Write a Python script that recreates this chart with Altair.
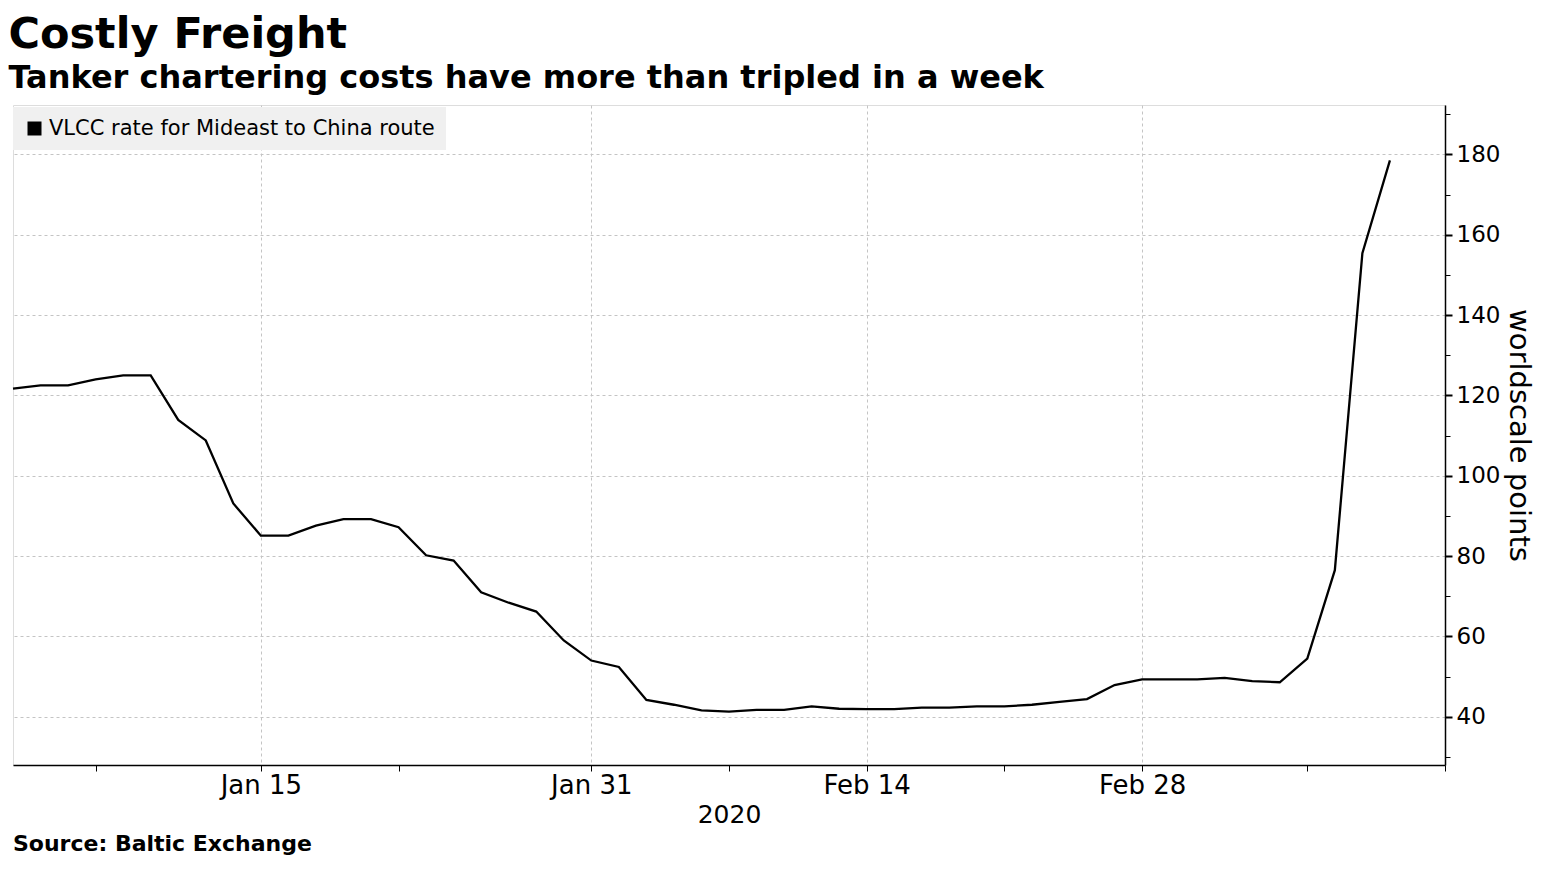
import json
import altair as alt
import numpy as np
import pandas as pd

# ---------------- data ----------------
dates = [
    "2020-01-02", "2020-01-03", "2020-01-06", "2020-01-07", "2020-01-08", "2020-01-09",
    "2020-01-10", "2020-01-13", "2020-01-14", "2020-01-15", "2020-01-16", "2020-01-17",
    "2020-01-20", "2020-01-21", "2020-01-22", "2020-01-23", "2020-01-24", "2020-01-27",
    "2020-01-28", "2020-01-29", "2020-01-30", "2020-01-31", "2020-02-03", "2020-02-04",
    "2020-02-05", "2020-02-06", "2020-02-07", "2020-02-10", "2020-02-11", "2020-02-12",
    "2020-02-13", "2020-02-14", "2020-02-17", "2020-02-18", "2020-02-19", "2020-02-20",
    "2020-02-21", "2020-02-24", "2020-02-25", "2020-02-26", "2020-02-27", "2020-02-28",
    "2020-03-02", "2020-03-03", "2020-03-04", "2020-03-05", "2020-03-06", "2020-03-09",
    "2020-03-10", "2020-03-11", "2020-03-12",
]
values = [
    121.7, 122.5, 122.5, 124.0, 125.0, 125.0,
    113.9, 108.8, 93.1, 85.1, 85.1, 87.6,
    89.2, 89.2, 87.2, 80.2, 78.9, 71.0,
    68.4, 66.2, 59.0, 54.0, 52.4, 44.2,
    43.0, 41.6, 41.3, 41.7, 41.7, 42.6,
    42.0, 41.9, 41.9, 42.3, 42.3, 42.6,
    42.6, 43.0, 43.7, 44.4, 47.9, 49.3,
    49.3, 49.3, 49.7, 48.9, 48.6, 54.5,
    76.5, 155.4, 178.5,
]
series_name = "VLCC rate for Mideast to China route"

x_start = "2020-01-02"
x_end = "2020-03-16"
major_tick_dates = ["2020-01-15", "2020-01-31", "2020-02-14", "2020-02-28"]
major_tick_labels = ["Jan 15", "Jan 31", "Feb 14", "Feb 28"]
minor_tick_dates = ["2020-01-07", "2020-01-22", "2020-02-07", "2020-02-21", "2020-03-09", "2020-03-16"]

y_major = [40, 60, 80, 100, 120, 140, 160, 180]
y_minor = [30, 50, 70, 90, 110, 130, 150, 170, 190]
y_domain = [28, 192.3]

title_text = "Costly Freight"
subtitle_text = "Tanker chartering costs have more than tripled in a week"
x_title = "2020"
y_title = "worldscale points"
source_text = "Source: Baltic Exchange"

FONT = "DejaVu Sans"
GRID = "#c4c4c4"
W, H = 1432, 660


def bday(d):
    return int(np.busday_count(x_start, d))


df = pd.DataFrame({"date": dates, "value": values, "series": series_name})
df["day"] = [bday(d) for d in dates]

major_idx = [bday(d) for d in major_tick_dates]
minor_idx = [bday(d) for d in minor_tick_dates]
end_idx = bday(x_end)

x_label_expr = (
    f"indexof({major_idx}, datum.value) >= 0 ? "
    f"{json.dumps(major_tick_labels)}[indexof({major_idx}, datum.value)] : ''"
)
x_grid_test = f"indexof({major_idx + [end_idx]}, datum.value) < 0"

x_axis = alt.Axis(
    values=sorted(major_idx + minor_idx),
    labelExpr=x_label_expr,
    title=x_title,
    grid=True,
    gridOpacity={"condition": {"test": x_grid_test, "value": 0}, "value": 1},
    gridDash=[3, 3],
    gridColor=GRID,
    gridWidth=1,
    tickSize=6,
    tickColor="black",
    tickWidth=1,
    domainColor="black",
    domainWidth=1.5,
    labelFont=FONT,
    labelFontSize=26,
    labelColor="black",
    labelPadding=1,
    labelOverlap=False,
    labelFlush=False,
    titleFont=FONT,
    titleFontSize=25,
    titleFontWeight="normal",
    titleColor="black",
    titlePadding=4,
)

y_axis = alt.Axis(
    orient="right",
    values=sorted(y_major + y_minor),
    labelExpr="datum.value % 20 == 0 ? datum.value : ''",
    title=y_title,
    grid=True,
    gridOpacity={"condition": {"test": "datum.value % 20 != 0", "value": 0}, "value": 1},
    gridDash=[3, 3],
    gridColor=GRID,
    gridWidth=1,
    tickSize={"condition": {"test": "datum.value % 20 != 0", "value": 5}, "value": 7},
    tickWidth={"condition": {"test": "datum.value % 20 != 0", "value": 1}, "value": 2},
    tickColor="black",
    domainColor="black",
    domainWidth=1.5,
    labelFont=FONT,
    labelFontSize=23,
    labelColor="black",
    labelPadding=4,
    labelBaseline="middle",
    titleFont=FONT,
    titleFontSize=29,
    titleFontWeight="normal",
    titleColor="black",
    titlePadding=4,
)

line = alt.Chart(df).mark_line(strokeWidth=2.3).encode(
    x=alt.X("day:Q", scale=alt.Scale(domain=[0, end_idx], nice=False, zero=False), axis=x_axis),
    y=alt.Y("value:Q", scale=alt.Scale(domain=y_domain, nice=False, zero=False), axis=y_axis),
    color=alt.Color(
        "series:N",
        scale=alt.Scale(range=["#000000"]),
        legend=alt.Legend(
            title=None,
            orient="none",
            legendX=0,
            legendY=2,
            fillColor="#f0f0f0",
            padding=11,
            symbolType="square",
            symbolSize=196,
            symbolFillColor="#000000",
            symbolStrokeWidth=0,
            labelFont=FONT,
            labelFontSize=21,
            labelColor="black",
            labelOffset=4,
            labelLimit=0,
        ),
    ),
)

source = alt.Chart(pd.DataFrame({"t": [source_text]})).mark_text(
    align="left", baseline="alphabetic", font=FONT, fontSize=22, fontWeight="bold", color="black"
).encode(text="t:N", x=alt.value(0), y=alt.value(H + 86))

chart = (
    alt.layer(line, source)
    .properties(
        width=W,
        height=H,
        padding={"left": 0, "top": 6, "right": 6, "bottom": 0},
        title=alt.TitleParams(
            text=title_text,
            subtitle=subtitle_text,
            anchor="start",
            font=FONT,
            fontSize=43,
            fontWeight="bold",
            color="black",
            subtitleFont=FONT,
            subtitleFontSize=32,
            subtitleFontWeight="bold",
            subtitleColor="black",
            subtitlePadding=6,
            offset=11,
        ),
    )
    .configure_view(stroke=None)
    .configure(background="white")
)

chart.save("out.html", embed_options={"renderer": "svg", "actions": False})
